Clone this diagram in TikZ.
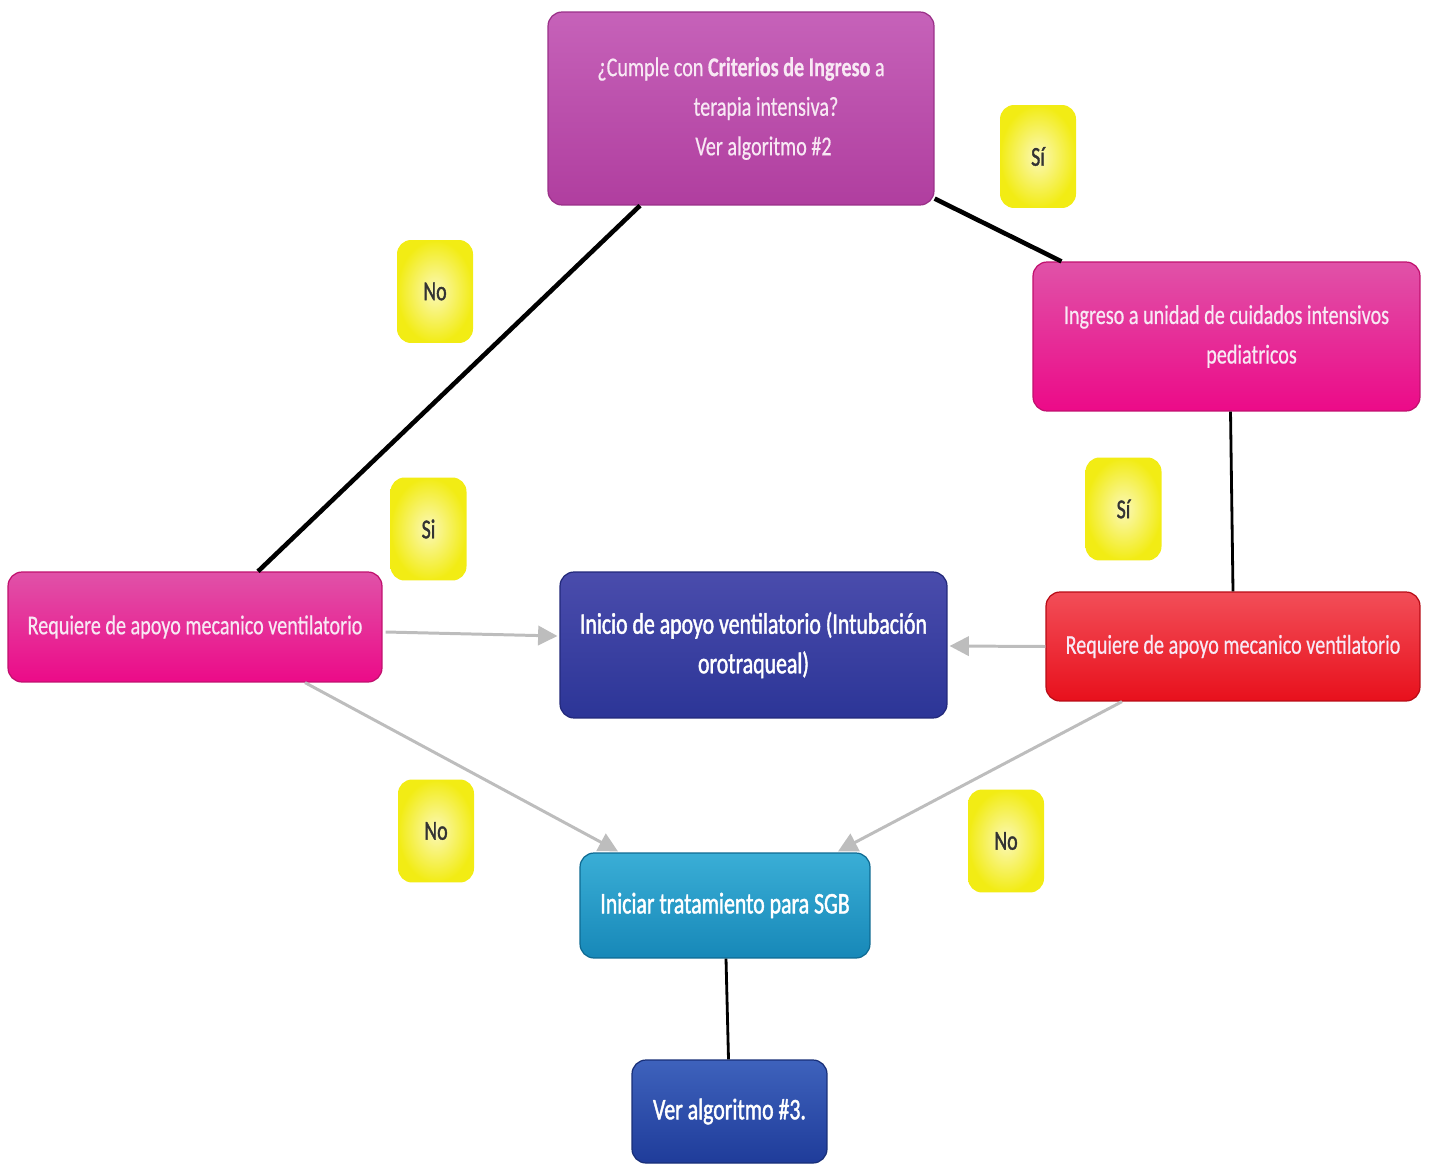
\documentclass[tikz,border=0pt]{standalone}
\usepackage{fontspec}
\setmainfont[FakeStretch=0.74, FakeBold=0.5]{Carlito}
\newfontfamily\heavyfont[FakeStretch=0.73, FakeBold=1.4]{Carlito}
\usetikzlibrary{calc,arrows.meta}

\definecolor{qtop}{HTML}{C662B9}
\definecolor{qbot}{HTML}{B03E9F}
\definecolor{qedge}{HTML}{9A3088}
\definecolor{ptop}{HTML}{E052A8}
\definecolor{pbot}{HTML}{EC0A88}
\definecolor{pedge}{HTML}{C0106E}
\definecolor{vtop}{HTML}{4A4CAC}
\definecolor{vbot}{HTML}{2C3597}
\definecolor{vedge}{HTML}{22287A}
\definecolor{rtop}{HTML}{F24E58}
\definecolor{rbot}{HTML}{E8101C}
\definecolor{redge}{HTML}{B80C16}
\definecolor{ctop}{HTML}{3AAED6}
\definecolor{cbot}{HTML}{1788B8}
\definecolor{cedge}{HTML}{0E6A92}
\definecolor{atop}{HTML}{3E62BC}
\definecolor{abot}{HTML}{1F3C9A}
\definecolor{aedge}{HTML}{182F78}
\definecolor{yin}{HTML}{FBF8B8}
\definecolor{yout}{HTML}{F2EC14}
\definecolor{paletext}{HTML}{F8E8F4}
\definecolor{graylink}{HTML}{BDBDBD}

\tikzset{
  box/.style={rounded corners=8pt, align=center, inner sep=4pt,
    line width=0.7pt, text=white, font=\fontsize{15.5}{22.5}\selectfont},
  heavybox/.style={box, font=\heavyfont\fontsize{17}{22.5}\selectfont},
  qbox/.style={box, top color=qtop, bottom color=qbot, draw=qedge, text=paletext},
  pbox/.style={box, top color=ptop, bottom color=pbot, draw=pedge, text=paletext},
  vbox/.style={heavybox, top color=vtop, bottom color=vbot, draw=vedge},
  rbox/.style={box, top color=rtop, bottom color=rbot, draw=redge, text=paletext},
  cbox/.style={heavybox, top color=ctop, bottom color=cbot, draw=cedge},
  abox/.style={heavybox, top color=atop, bottom color=abot, draw=aedge},
  tag/.style={rounded corners=8pt, inner color=yin, outer color=yout,
    minimum width=1.52cm, minimum height=2.06cm, text=black!80,
    font=\heavyfont\fontsize{15.5}{18}\selectfont},
  strong/.style={line width=2.6pt, black},
  thin/.style={line width=1.6pt, black},
  flow/.style={line width=1.7pt, graylink,
    -{Triangle[length=11pt,width=11pt]}},
}

\begin{document}
\begin{tikzpicture}[x=0.02cm, y=-0.02cm]
\useasboundingbox (0,0) rectangle (1429,1165);

% main boxes
\node[qbox, minimum width=7.72cm, minimum height=3.86cm] (q) at (741,108.5)
  {¿Cumple con \textbf{Criterios de Ingreso} a\\
   \hspace*{1.0cm}terapia intensiva?\\
   \hspace*{0.9cm}Ver algoritmo \#2};
\node[pbox, minimum width=7.74cm, minimum height=2.98cm] (icu) at (1226.5,336.5)
  {Ingreso a unidad de cuidados intensivos\\ \hspace*{1.0cm}pediatricos};
\node[pbox, minimum width=7.48cm, minimum height=2.2cm] (lreq) at (195,627)
  {Requiere de apoyo mecanico ventilatorio};
\node[vbox, minimum width=7.74cm, minimum height=2.92cm] (vent) at (753.5,645)
  {Inicio de apoyo ventilatorio (Intubación\\ orotraqueal)};
\node[rbox, minimum width=7.48cm, minimum height=2.18cm] (rreq) at (1233,646.5)
  {Requiere de apoyo mecanico ventilatorio};
\node[cbox, minimum width=5.8cm, minimum height=2.1cm] (sgb) at (725,905.5)
  {Iniciar tratamiento para SGB};
\node[abox, minimum width=3.9cm, minimum height=2.06cm] (alg) at (729.5,1111.5)
  {Ver algoritmo \#3.};

% answer tags
\node[tag] (siTop) at (1038,156.5) {Sí};
\node[tag] (noTop) at (435,291.5) {No};
\node[tag] (siL) at (428.5,529) {Si};
\node[tag] (siR) at (1123.5,509) {Sí};
\node[tag] (noBL) at (436,831) {No};
\node[tag] (noBR) at (1006,841) {No};

% black links
\draw[strong] ($(q.south)+(-101,0)$) -- ($(lreq.north)+(63,0)$);
\draw[strong] ($(q.south east)+(0,-7)$) -- ($(icu.north west)+(29,0)$);
\draw[thin] ($(icu.south)+(4,0)$) -- (rreq.north);
\draw[thin] ($(sgb.south)+(1,0)$) -- ($(alg.north)+(-1,0)$);

% grey arrows
\draw[flow] ($(lreq.east)+(3,5)$) -- ($(vent.west)+(-2,-9)$);
\draw[flow] (rreq.west) -- ($(vent.east)+(2,1)$);
\draw[flow] ($(lreq.south)+(110,0)$) -- ($(sgb.north)+(-107,-1)$);
\draw[flow] ($(rreq.south)+(-111,0)$) -- ($(sgb.north)+(113,-1)$);
\end{tikzpicture}
\end{document}
